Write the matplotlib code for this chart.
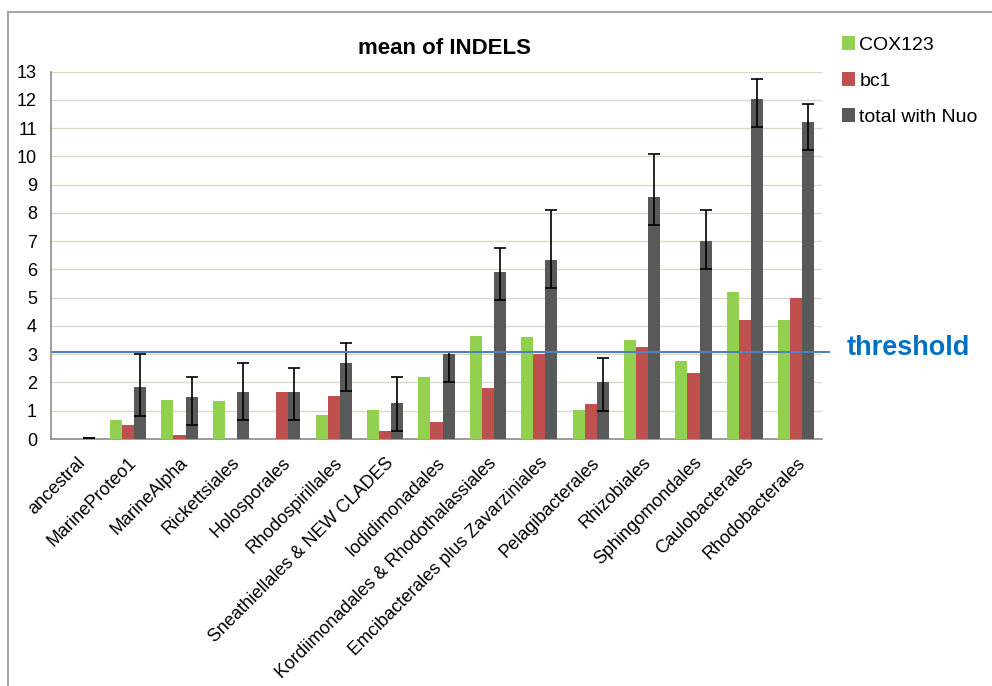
import matplotlib.pyplot as plt
import matplotlib.patches as mpatches
import numpy as np

plt.rcParams['font.family'] = ['Liberation Sans', 'DejaVu Sans']

# --- Data ---
clades = ["ancestral", "MarineProteo1", "MarineAlpha", "Rickettsiales",
          "Holosporales", "Rhodospirillales", "Sneathiellales & NEW CLADES",
          "Iodidimonadales", "Kordiimonadales & Rhodothalassiales",
          "Emcibacterales plus Zavarziniales", "Pelagibacterales",
          "Rhizobiales", "Sphingomondales", "Caulobacterales", "Rhodobacterales"]
cox123 = [0, 0.67, 1.37, 1.33, 0, 0.84, 1.01, 2.19, 3.63, 3.60, 1.01, 3.52, 2.77, 5.19, 4.20]
bc1 = [0, 0.50, 0.14, 0, 1.66, 1.52, 0.29, 0.60, 1.82, 3.01, 1.24, 3.27, 2.34, 4.20, 5.00]
total_nuo = [0.02, 1.83, 1.50, 1.66, 1.66, 2.69, 1.27, 3.00, 5.91, 6.34, 2.00, 8.57, 7.02, 12.04, 11.22]
# error bars: fixed lower part, variable upper part
err_low = [0, 1.0, 1.0, 1.0, 1.0, 1.0, 1.0, 1.0, 1.0, 1.0, 1.0, 1.0, 1.0, 1.0, 1.0]
err_high = [0, 1.17, 0.71, 1.04, 0.84, 0.70, 0.94, 0.09, 0.84, 1.75, 0.88, 1.50, 1.10, 0.70, 0.64]
threshold = 3.07

GREEN = "#92D050"
RED = "#C0504D"
GREY = "#595959"

fig = plt.figure(figsize=(9.92, 6.86), dpi=100)
ax = fig.add_axes([51 / 992, 1 - 439 / 686, (822 - 51) / 992, (439 - 71.7) / 686])

x = np.arange(len(clades))
w = 0.235

ax.bar(x - w, cox123, w, color=GREEN, label="COX123", zorder=3)
ax.bar(x, bc1, w, color=RED, label="bc1", zorder=3)
ax.bar(x + w, total_nuo, w, color=GREY, label="total with Nuo", zorder=3,
       yerr=[err_low, err_high], error_kw=dict(ecolor="black", elinewidth=1.2,
                                               capsize=4, capthick=1.2, zorder=4))

ax.set_xlim(-0.5, len(clades) - 0.5)
ax.set_ylim(0, 13)
ax.set_yticks(range(0, 14))
ax.yaxis.grid(True, color="#DDD9C3", linewidth=1.0, zorder=0)
ax.set_axisbelow(True)

for side in ("top", "right"):
    ax.spines[side].set_visible(False)
for side in ("left", "bottom"):
    ax.spines[side].set_color("#8C8C8C")
    ax.spines[side].set_linewidth(1.2)
ax.tick_params(axis="both", length=0, labelsize=13)
ax.tick_params(axis="y", pad=10)
ax.tick_params(axis="x", pad=11)
ax.set_xticks(x)
ax.set_xticklabels(clades, rotation=45, ha="right", rotation_mode="anchor")

# threshold line and label
ax.plot([-0.46, 14.64], [threshold, threshold], color="#4F81BD", linewidth=1.5,
        zorder=5, clip_on=False)
fig.text(847 / 992, 1 - 348 / 686, "threshold", color="#0070C0", fontsize=19.5,
         fontweight="bold", va="center", ha="left")

fig.text(445 / 992, 1 - 48 / 686, "mean of INDELS", fontsize=16,
         fontweight="bold", ha="center", va="center")

leg = ax.legend(loc="upper left", bbox_to_anchor=(1.003, 1.145), frameon=False,
                fontsize=14, handlelength=0.7, handleheight=0.7,
                handletextpad=0.2, labelspacing=0.95)

# outer chart frame
fig.patches.append(mpatches.Rectangle((7.5 / 992, -0.05), 1.1, 1 - 11.7 / 686 + 0.05,
                                      transform=fig.transFigure, fill=False,
                                      edgecolor="#A6A6A6", linewidth=1.5))

fig.savefig("out.png", dpi=100)
